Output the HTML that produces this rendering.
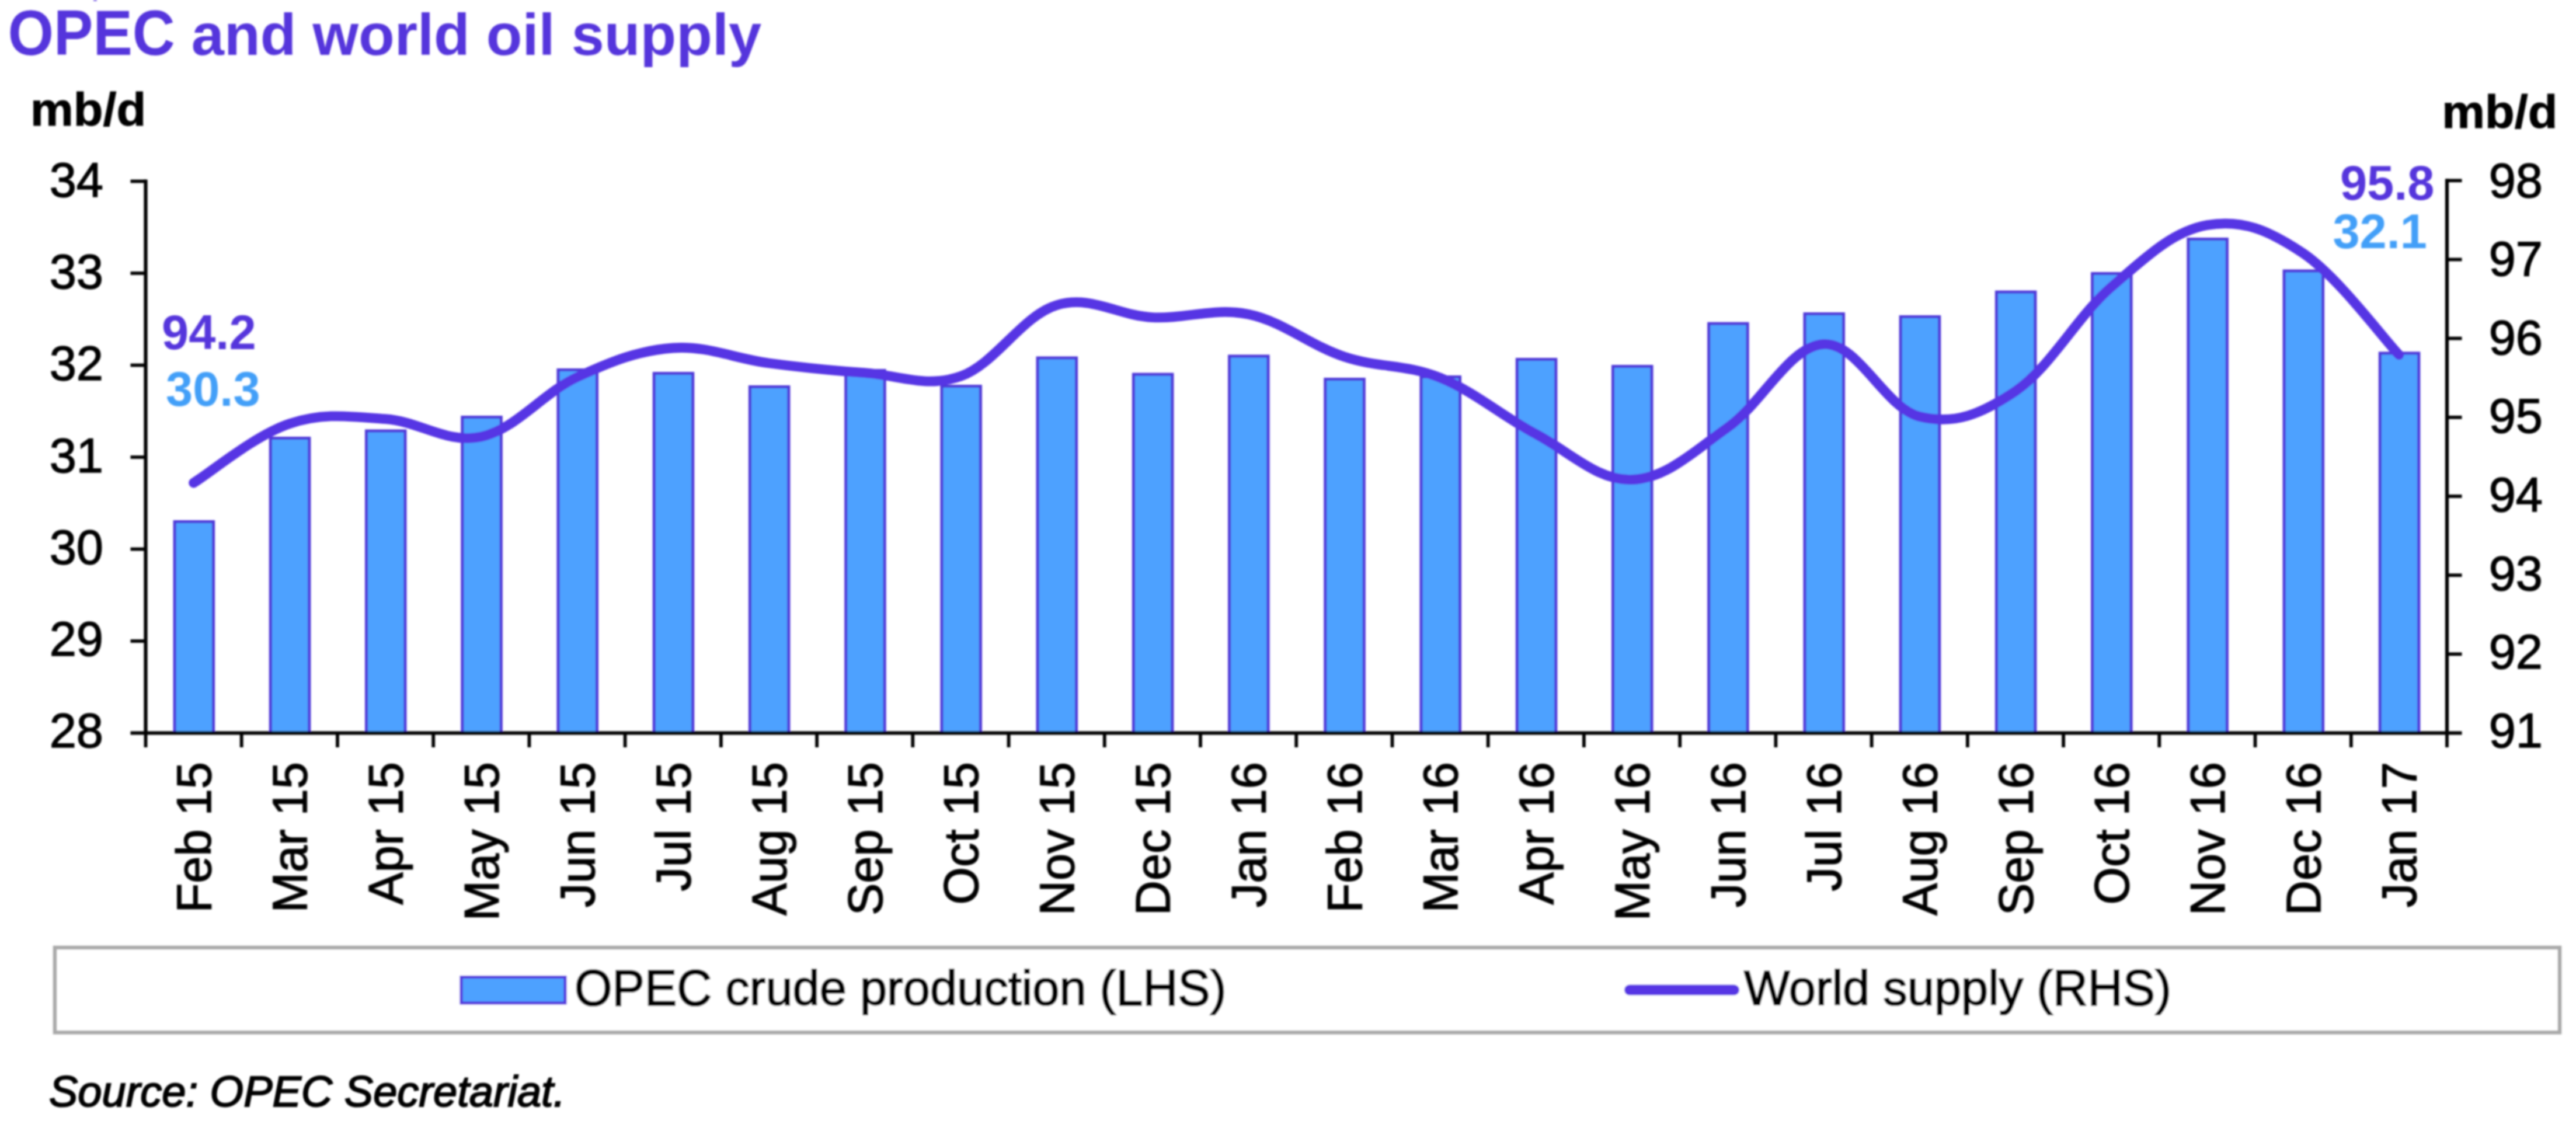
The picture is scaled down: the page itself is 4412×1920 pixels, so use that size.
<!DOCTYPE html>
<html><head><meta charset="utf-8"><title>OPEC and world oil supply</title>
<style>
html,body{margin:0;padding:0;background:#fff;}
body{width:4412px;height:1920px;overflow:hidden;}
svg{display:block;}
text{font-family:"Liberation Sans",sans-serif;}
</style></head><body>
<svg width="4412" height="1920" viewBox="0 0 4412 1920">
<defs><filter id="soft" x="0" y="0" width="4412" height="1920" filterUnits="userSpaceOnUse"><feGaussianBlur stdDeviation="1.5"/></filter></defs>
<rect width="4412" height="1920" fill="#ffffff"/>
<g filter="url(#soft)">
<text transform="translate(13.5 94) scale(1 1.075)" font-size="101" font-weight="bold" fill="#5535dc">OPEC</text>
<text x="299.73" y="94" font-size="101" font-weight="bold" fill="#5535dc" xml:space="preserve"> and world oil supply</text>
<rect x="160" y="-1" width="6" height="3" rx="1" fill="#5535dc" opacity="0.7"/>
<text transform="translate(52 214.5) scale(1 0.95)" font-size="83" font-weight="bold" fill="#000" stroke="#000" stroke-width="1">mb/d</text>
<text transform="translate(4380.5 219) scale(1 0.95)" font-size="83" font-weight="bold" fill="#000" stroke="#000" stroke-width="1" text-anchor="end">mb/d</text>
<g fill="#4da1ff" stroke="#5038d8" stroke-width="5.0">
<rect x="299.1" y="893.5" width="66.5" height="362.0"/>
<rect x="463.3" y="750.5" width="66.5" height="505.0"/>
<rect x="627.5" y="738.0" width="66.5" height="517.5"/>
<rect x="791.8" y="714.5" width="66.5" height="541.0"/>
<rect x="956.0" y="633.5" width="66.5" height="622.0"/>
<rect x="1120.2" y="639.5" width="66.5" height="616.0"/>
<rect x="1284.4" y="662.5" width="66.5" height="593.0"/>
<rect x="1448.7" y="634.5" width="66.5" height="621.0"/>
<rect x="1612.9" y="661.5" width="66.5" height="594.0"/>
<rect x="1777.1" y="613.0" width="66.5" height="642.5"/>
<rect x="1941.4" y="641.1" width="66.5" height="614.4"/>
<rect x="2105.6" y="610.0" width="66.5" height="645.5"/>
<rect x="2269.8" y="649.5" width="66.5" height="606.0"/>
<rect x="2434.0" y="645.5" width="66.5" height="610.0"/>
<rect x="2598.3" y="615.5" width="66.5" height="640.0"/>
<rect x="2762.5" y="627.5" width="66.5" height="628.0"/>
<rect x="2926.7" y="554.2" width="66.5" height="701.3"/>
<rect x="3091.0" y="537.5" width="66.5" height="718.0"/>
<rect x="3255.2" y="542.5" width="66.5" height="713.0"/>
<rect x="3419.4" y="500.1" width="66.5" height="755.4"/>
<rect x="3583.6" y="468.5" width="66.5" height="787.0"/>
<rect x="3747.9" y="409.5" width="66.5" height="846.0"/>
<rect x="3912.1" y="464.0" width="66.5" height="791.5"/>
<rect x="4076.3" y="604.9" width="66.5" height="650.6"/>
</g>
<g stroke="#000" stroke-width="6.2" fill="none">
<path d="M249.5 307.4 V1255.5"/>
<path d="M4191.0 306.2 V1255.5"/>
<path d="M223.5 1255.5 H4216.5" stroke-width="5.8"/>
<path d="M223.5 310.5 H249.5" stroke-width="5.8"/>
<path d="M223.5 468.0 H249.5" stroke-width="5.8"/>
<path d="M223.5 625.5 H249.5" stroke-width="5.8"/>
<path d="M223.5 783.0 H249.5" stroke-width="5.8"/>
<path d="M223.5 940.5 H249.5" stroke-width="5.8"/>
<path d="M223.5 1098.0 H249.5" stroke-width="5.8"/>
<path d="M4191.0 309.3 H4216.5" stroke-width="5.8"/>
<path d="M4191.0 444.5 H4216.5" stroke-width="5.8"/>
<path d="M4191.0 579.6 H4216.5" stroke-width="5.8"/>
<path d="M4191.0 714.8 H4216.5" stroke-width="5.8"/>
<path d="M4191.0 850.0 H4216.5" stroke-width="5.8"/>
<path d="M4191.0 985.2 H4216.5" stroke-width="5.8"/>
<path d="M4191.0 1120.3 H4216.5" stroke-width="5.8"/>
<path d="M249.5 1255.5 V1280.0" stroke-width="5.8"/>
<path d="M413.7 1255.5 V1280.0" stroke-width="5.8"/>
<path d="M578.0 1255.5 V1280.0" stroke-width="5.8"/>
<path d="M742.2 1255.5 V1280.0" stroke-width="5.8"/>
<path d="M906.4 1255.5 V1280.0" stroke-width="5.8"/>
<path d="M1070.6 1255.5 V1280.0" stroke-width="5.8"/>
<path d="M1234.9 1255.5 V1280.0" stroke-width="5.8"/>
<path d="M1399.1 1255.5 V1280.0" stroke-width="5.8"/>
<path d="M1563.3 1255.5 V1280.0" stroke-width="5.8"/>
<path d="M1727.6 1255.5 V1280.0" stroke-width="5.8"/>
<path d="M1891.8 1255.5 V1280.0" stroke-width="5.8"/>
<path d="M2056.0 1255.5 V1280.0" stroke-width="5.8"/>
<path d="M2220.2 1255.5 V1280.0" stroke-width="5.8"/>
<path d="M2384.5 1255.5 V1280.0" stroke-width="5.8"/>
<path d="M2548.7 1255.5 V1280.0" stroke-width="5.8"/>
<path d="M2712.9 1255.5 V1280.0" stroke-width="5.8"/>
<path d="M2877.2 1255.5 V1280.0" stroke-width="5.8"/>
<path d="M3041.4 1255.5 V1280.0" stroke-width="5.8"/>
<path d="M3205.6 1255.5 V1280.0" stroke-width="5.8"/>
<path d="M3369.9 1255.5 V1280.0" stroke-width="5.8"/>
<path d="M3534.1 1255.5 V1280.0" stroke-width="5.8"/>
<path d="M3698.3 1255.5 V1280.0" stroke-width="5.8"/>
<path d="M3862.5 1255.5 V1280.0" stroke-width="5.8"/>
<path d="M4026.8 1255.5 V1280.0" stroke-width="5.8"/>
<path d="M4191.0 1255.5 V1280.0" stroke-width="5.8"/>
</g>
<g font-size="83" fill="#000" stroke="#000" stroke-width="1.4" text-anchor="end">
<text x="177" y="337.0">34</text>
<text x="177" y="494.2">33</text>
<text x="177" y="651.3">32</text>
<text x="177" y="808.5">31</text>
<text x="177" y="965.7">30</text>
<text x="177" y="1122.8">29</text>
<text x="177" y="1280.0">28</text>
<text x="4355" y="337.5">98</text>
<text x="4355" y="472.1">97</text>
<text x="4355" y="606.8">96</text>
<text x="4355" y="741.4">95</text>
<text x="4355" y="876.1">94</text>
<text x="4355" y="1010.7">93</text>
<text x="4355" y="1145.4">92</text>
<text x="4355" y="1280.0">91</text>
</g>
<g font-size="83" fill="#000" stroke="#000" stroke-width="1.4" text-anchor="end">
<text transform="translate(361.1 1305) rotate(-90)">Feb 15</text>
<text transform="translate(525.3 1305) rotate(-90)">Mar 15</text>
<text transform="translate(689.6 1305) rotate(-90)">Apr 15</text>
<text transform="translate(853.8 1305) rotate(-90)">May 15</text>
<text transform="translate(1018.0 1305) rotate(-90)">Jun 15</text>
<text transform="translate(1182.3 1305) rotate(-90)">Jul 15</text>
<text transform="translate(1346.5 1305) rotate(-90)">Aug 15</text>
<text transform="translate(1510.7 1305) rotate(-90)">Sep 15</text>
<text transform="translate(1674.9 1305) rotate(-90)">Oct 15</text>
<text transform="translate(1839.2 1305) rotate(-90)">Nov 15</text>
<text transform="translate(2003.4 1305) rotate(-90)">Dec 15</text>
<text transform="translate(2167.6 1305) rotate(-90)">Jan 16</text>
<text transform="translate(2331.9 1305) rotate(-90)">Feb 16</text>
<text transform="translate(2496.1 1305) rotate(-90)">Mar 16</text>
<text transform="translate(2660.3 1305) rotate(-90)">Apr 16</text>
<text transform="translate(2824.6 1305) rotate(-90)">May 16</text>
<text transform="translate(2988.8 1305) rotate(-90)">Jun 16</text>
<text transform="translate(3153.0 1305) rotate(-90)">Jul 16</text>
<text transform="translate(3317.2 1305) rotate(-90)">Aug 16</text>
<text transform="translate(3481.5 1305) rotate(-90)">Sep 16</text>
<text transform="translate(3645.7 1305) rotate(-90)">Oct 16</text>
<text transform="translate(3809.9 1305) rotate(-90)">Nov 16</text>
<text transform="translate(3974.2 1305) rotate(-90)">Dec 16</text>
<text transform="translate(4138.4 1305) rotate(-90)">Jan 17</text>
</g>
<path d="M331.6 827.0 C361.2 808.8 436.7 745.4 495.8 725.7 C555.0 706.0 601.0 713.6 660.1 717.6 C719.2 721.6 765.2 760.9 824.3 748.0 C883.4 735.1 929.4 673.4 988.5 646.0 C1047.7 618.6 1093.6 600.3 1152.8 596.0 C1211.9 591.7 1257.9 614.3 1317.0 622.0 C1376.1 629.7 1422.1 634.6 1481.2 638.6 C1540.3 642.6 1586.3 665.3 1645.4 644.4 C1704.6 623.5 1750.6 540.8 1809.7 522.7 C1868.8 504.6 1914.8 540.8 1973.9 543.6 C2033.0 546.4 2079.0 526.2 2138.1 538.3 C2197.3 550.4 2243.2 591.4 2302.4 611.0 C2361.5 630.6 2407.5 623.1 2466.6 647.0 C2525.7 670.9 2571.7 712.1 2630.8 743.5 C2689.9 774.9 2735.9 823.6 2795.1 821.5 C2854.2 819.4 2900.2 773.8 2959.3 732.0 C3018.4 690.2 3064.4 592.8 3123.5 589.5 C3182.6 586.2 3228.6 699.0 3287.7 713.5 C3346.9 728.0 3392.8 710.0 3452.0 670.0 C3511.1 630.0 3557.1 542.7 3616.2 491.5 C3675.3 440.3 3721.3 396.0 3780.4 385.6 C3839.5 375.2 3885.5 393.8 3944.7 433.8 C4003.8 473.8 4079.3 576.5 4108.9 607.8" fill="none" stroke="#5634e4" stroke-width="16.8" stroke-linecap="round" stroke-linejoin="round"/>
<g font-size="83" font-weight="bold">
<text x="277" y="598" fill="#5535dc">94.2</text>
<text x="284" y="695" fill="#439ff8">30.3</text>
<text x="4169.5" y="341.5" fill="#5535dc" text-anchor="end">95.8</text>
<text x="4157" y="424.5" fill="#439ff8" text-anchor="end">32.1</text>
</g>
<rect x="94" y="1623" width="4290" height="145.29999999999995" fill="#fff" stroke="#a9a9a9" stroke-width="6.5"/>
<rect x="790" y="1673.5" width="178" height="44.5" fill="#4da1ff" stroke="#5535dc" stroke-width="5.0"/>
<text transform="translate(984 1721.5) scale(1 1.055)" font-size="83" fill="#000" stroke="#000" stroke-width="2">OPEC</text>
<text x="1219.23" y="1721" font-size="83" fill="#000" stroke="#000" stroke-width="2" xml:space="preserve"> crude production (</text>
<text transform="translate(1911.27 1721.5) scale(1 1.055)" font-size="83" fill="#000" stroke="#000" stroke-width="2">LHS</text>
<text x="2072.73" y="1721" font-size="83" fill="#000" stroke="#000" stroke-width="2">)</text>
<path d="M2791 1695.6 H2970" stroke="#5634e4" stroke-width="18" stroke-linecap="round"/>
<text x="2987" y="1721" font-size="83" fill="#000" stroke="#000" stroke-width="2">World supply (</text>
<text transform="translate(3515.94 1721.5) scale(1 1.055)" font-size="83" fill="#000" stroke="#000" stroke-width="2">RHS</text>
<text x="3691.17" y="1721" font-size="83" fill="#000" stroke="#000" stroke-width="2">)</text>
<text x="84" y="1894.5" font-size="74" font-style="italic" fill="#000" stroke="#000" stroke-width="2">Source: OPEC Secretariat.</text>
</g>
</svg>
</body></html>
